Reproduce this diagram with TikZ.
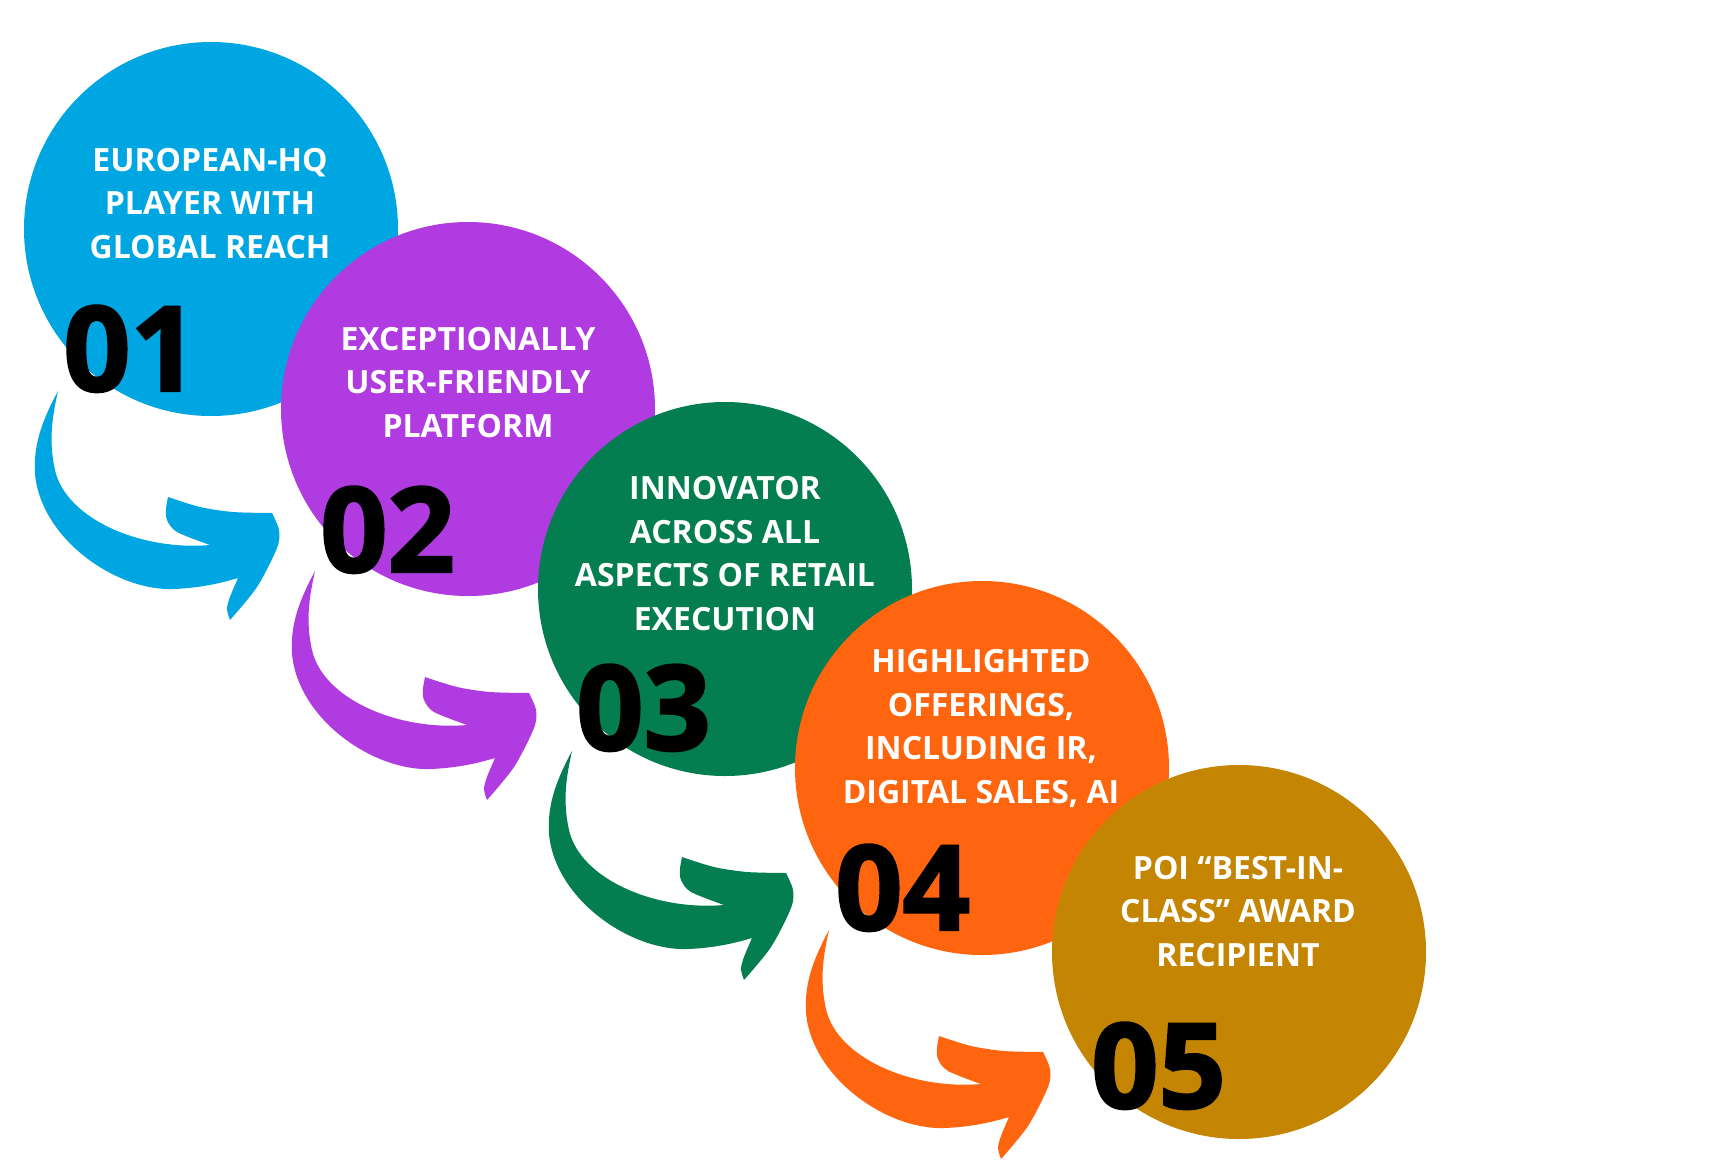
\documentclass[tikz,border=0pt]{standalone}
\usepackage{fontspec}
\setmainfont{Open Sans}
\newfontfamily\numfont{Open Sans}[BoldFeatures={FakeBold=2}]
\usepackage{xcolor}
\usepackage{tikz}

\definecolor{cblue}{RGB}{0,166,226}
\definecolor{cpurple}{RGB}{176,59,224}
\definecolor{cgreen}{RGB}{4,125,81}
\definecolor{corange}{RGB}{254,101,14}
\definecolor{cgold}{RGB}{196,134,2}

% curled arrow below a bubble: #1 bubble name, #2 colour
\newcommand{\turnarrow}[2]{%
\fill[#2, shift={(#1.center)}] (-153,162)
  .. controls (-168,190) and (-178,215) .. (-176,245)
  .. controls (-170,310) and (-95,362) .. (-38,360)
  .. controls (-10,359) and (10,354) .. (27,349)
  -- plot[smooth] coordinates {(27,349) (19,368) (16,380) (19,391)}
  -- plot[smooth] coordinates {(19,391) (46,358) (66,319) (68,301) (61,284)}
  -- plot[smooth] coordinates {(61,284) (22,283) (-11,278) (-43,268)}
  -- plot[smooth] coordinates {(-43,268) (-45,280) (-44,291) (-34,303) (-1,316)}
  .. controls (-70,322) and (-145,290) .. (-156,241)
  .. controls (-163,210) and (-158,185) .. (-153,162)
  -- cycle;}

\begin{document}
\begin{tikzpicture}[
    x=1pt, y=-1pt,
    bubble/.style={circle, minimum size=374pt, inner sep=0pt},
    caption/.style={text=white, align=center, anchor=base, inner sep=0pt,
                    font=\bfseries\fontsize{32}{43.5}\selectfont},
    number/.style={anchor=base west, inner sep=0pt,
                   font=\numfont\bfseries\fontsize{118}{118}\selectfont}
]
\fill[white] (0,0) rectangle (1726,1175);
\useasboundingbox (0,0) rectangle (1726,1175);

% === 01 ===
\node[bubble, fill=cblue] (c1) at (211,229) {};
\node[caption] (t1) at (210,258) {EUROPEAN-HQ\\PLAYER WITH\\GLOBAL REACH};
\node[number] (n1) at ([shift={(-148,162)}]c1.center) {01};
\turnarrow{c1}{cblue}

% === 02 ===
\node[bubble, fill=cpurple] (c2) at (468,409) {};
\node[caption] (t2) at (468,437) {EXCEPTIONALLY\\USER-FRIENDLY\\PLATFORM};
\node[number] (n2) at ([shift={(-148,163)}]c2.center) {02};
\turnarrow{c2}{cpurple}

% === 03 ===
\node[bubble, fill=cgreen] (c3) at (725,589) {};
\node[caption] (t3) at (725,630) {INNOVATOR\\ACROSS ALL\\ASPECTS OF RETAIL\\EXECUTION};
\node[number] (n3) at ([shift={(-149,161)}]c3.center) {03};
\turnarrow{c3}{cgreen}

% === 04 ===
\node[bubble, fill=corange] (c4) at (982,768) {};
\node[caption] (t4) at (981,803) {HIGHLIGHTED\\OFFERINGS,\\INCLUDING IR,\\DIGITAL SALES, AI};
\node[number] (n4) at ([shift={(-147,162)}]c4.center) {04};
\turnarrow{c4}{corange}

% === 05 ===
\node[bubble, fill=cgold] (c5) at (1239,952) {};
\node[caption] (t5) at (1238,966) {POI “BEST-IN-\\CLASS” AWARD\\RECIPIENT};
\node[number] (n5) at ([shift={(-148,156)}]c5.center) {05};

\end{tikzpicture}
\end{document}
